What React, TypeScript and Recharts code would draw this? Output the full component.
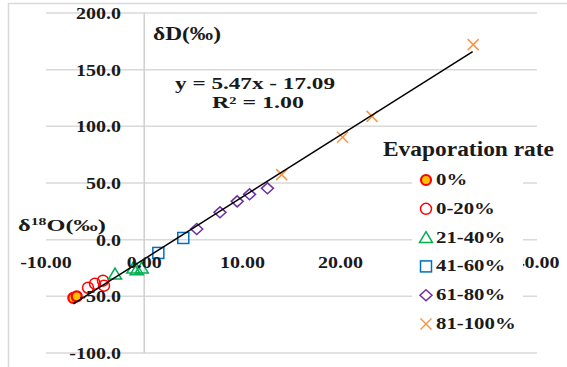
import React from "react";
import { ScatterChart, Scatter, XAxis, YAxis, CartesianGrid, ReferenceLine } from "recharts";

const xTicks = [-10, 0, 10, 20, 30, 40];
const yTicks = [-100, -50, 0, 50, 100, 150, 200];

const rate0 = [{ x: -7.22, y: -51.4 }, { x: -6.87, y: -50.0 }];
const rate0to20 = [{ x: -5.72, y: -42.4 }, { x: -5.01, y: -38.8 }, { x: -4.2, y: -36.2 }, { x: -4.09, y: -40.6 }];
const rate21to40 = [{ x: -2.97, y: -30.3 }, { x: -1.11, y: -25.0 }, { x: -0.76, y: -26.5 }, { x: -0.25, y: -25.0 }];
const rate41to60 = [{ x: 1.44, y: -11.7 }, { x: 3.98, y: 1.5 }];
const rate61to80 = [{ x: 5.35, y: 9.4 }, { x: 7.72, y: 24.1 }, { x: 9.47, y: 33.8 }, { x: 10.73, y: 40.0 }, { x: 12.55, y: 45.3 }];
const rate81to100 = [{ x: 14.0, y: 57.4 }, { x: 20.2, y: 90.3 }, { x: 23.2, y: 108.8 }, { x: 33.5, y: 172.1 }];
const trend = [{ x: -7.22, y: -56.6 }, { x: 33.45, y: 165.9 }];

const legendItems = [
  { kind: "filled", label: "0%" },
  { kind: "circle", label: "0-20%" },
  { kind: "triangle", label: "21-40%" },
  { kind: "square", label: "41-60%" },
  { kind: "diamond", label: "61-80%" },
  { kind: "cross", label: "81-100%" },
];

const FONT = "'Liberation Serif', 'Times New Roman', serif";

function Marker({ kind, cx, cy }: { kind: string; cx: number; cy: number }) {
  if (cx == null || cy == null) return null;
  switch (kind) {
    case "filled":
      return <circle cx={cx} cy={cy} r={5} fill="#FFC000" stroke="#FF0000" strokeWidth={2.2} />;
    case "circle":
      return <circle cx={cx} cy={cy} r={5.5} fill="none" stroke="#FF0000" strokeWidth={1.5} />;
    case "triangle":
      return (
        <polygon
          points={`${cx},${cy - 6} ${cx + 6.5},${cy + 5} ${cx - 6.5},${cy + 5}`}
          fill="none"
          stroke="#00B050"
          strokeWidth={1.5}
        />
      );
    case "square":
      return <rect x={cx - 5.5} y={cy - 5.5} width={11} height={11} fill="none" stroke="#0070C0" strokeWidth={1.5} />;
    case "diamond":
      return (
        <polygon
          points={`${cx},${cy - 5.5} ${cx + 6},${cy} ${cx},${cy + 5.5} ${cx - 6},${cy}`}
          fill="none"
          stroke="#7030A0"
          strokeWidth={1.5}
        />
      );
    case "cross":
      return (
        <g stroke="#F79646" strokeWidth={1.5}>
          <line x1={cx - 5.5} y1={cy - 5.5} x2={cx + 5.5} y2={cy + 5.5} />
          <line x1={cx - 5.5} y1={cy + 5.5} x2={cx + 5.5} y2={cy - 5.5} />
        </g>
      );
    default:
      return null;
  }
}

function SText({ x, y, anchor = "start", size = 16, sx = 1.25, children }: any) {
  return (
    <text
      transform={`translate(${x} ${y}) scale(${sx} 1)`}
      textAnchor={anchor}
      fontSize={size}
      fontWeight="bold"
      fontFamily={FONT}
      fill="#1a1a1a"
    >
      {children}
    </text>
  );
}

const YTick = (props: any) => {
  const { y, payload } = props;
  return <SText x={121} y={y + 6} anchor="end">{Number(payload.value).toFixed(1)}</SText>;
};

const XTick = (props: any) => {
  const { x, payload } = props;
  return <SText x={x} y={268} anchor="middle">{Number(payload.value).toFixed(2)}</SText>;
};

const shapeOf = (kind: string) => (p: any) => <Marker kind={kind} cx={p.cx} cy={p.cy} />;

export default function App() {
  return (
    <div style={{ position: "absolute", left: 0, top: 0, width: 567, height: 367, background: "#fff" }}>
      <ScatterChart width={567} height={367} margin={{ top: 13, right: 30, bottom: 0, left: 16 }}>
        <CartesianGrid vertical={false} stroke="#d9d9d9" strokeWidth={1.5} />
        <XAxis
          type="number"
          dataKey="x"
          domain={[-10, 40]}
          ticks={xTicks}
          axisLine={false}
          tickLine={false}
          height={14}
          tick={<XTick />}
          interval={0}
        />
        <YAxis
          type="number"
          dataKey="y"
          domain={[-100, 200]}
          ticks={yTicks}
          axisLine={false}
          tickLine={false}
          width={30}
          tick={<YTick />}
          interval={0}
        />
        <ReferenceLine x={0} stroke="#cfcfcf" strokeWidth={1.5} />
        <Scatter data={rate0} shape={shapeOf("filled")} isAnimationActive={false} />
        <Scatter data={rate0to20} shape={shapeOf("circle")} isAnimationActive={false} />
        <Scatter data={rate21to40} shape={shapeOf("triangle")} isAnimationActive={false} />
        <Scatter data={rate41to60} shape={shapeOf("square")} isAnimationActive={false} />
        <Scatter data={rate61to80} shape={shapeOf("diamond")} isAnimationActive={false} />
        <Scatter data={rate81to100} shape={shapeOf("cross")} isAnimationActive={false} />
        <Scatter
          data={trend}
          shape={() => <g />}
          line={{ stroke: "#000", strokeWidth: 1.5 }}
          isAnimationActive={false}
        />
      </ScatterChart>
      <svg
        width={567}
        height={367}
        style={{ position: "absolute", left: 0, top: 0, pointerEvents: "none" }}
      >
        <rect x={8.5} y={3.5} width={600} height={400} fill="none" stroke="#d9d9d9" strokeWidth={1.5} />
        <text x={153} y={40} fontSize={19} fontWeight="bold" fontFamily={FONT} fill="#1a1a1a" textLength={68} lengthAdjust="spacingAndGlyphs">
          δD(‰)
        </text>
        <text x={18} y={231} fontSize={17} fontWeight="bold" fontFamily={FONT} fill="#1a1a1a" textLength={88} lengthAdjust="spacingAndGlyphs">
          δ<tspan fontSize={11} dy={-6}>18</tspan><tspan dy={6}>O(‰)</tspan>
        </text>
        <text x={175} y={89} fontSize={16.5} fontWeight="bold" fontFamily={FONT} fill="#1a1a1a" textLength={160} lengthAdjust="spacingAndGlyphs">
          y = 5.47x - 17.09
        </text>
        <text x={212} y={108} fontSize={16.5} fontWeight="bold" fontFamily={FONT} fill="#1a1a1a" textLength={92} lengthAdjust="spacingAndGlyphs">
          R² = 1.00
        </text>
        <rect x={412} y={163} width={111} height={177} fill="#fff" />
        <text x={383} y={156} fontSize={20} fontWeight="bold" fontFamily={FONT} fill="#1a1a1a" textLength={171} lengthAdjust="spacingAndGlyphs">
          Evaporation rate
        </text>
        {legendItems.map((it, i) => {
          const base = 185 + i * 28.8;
          return (
            <g key={it.label}>
              <Marker kind={it.kind} cx={426} cy={base - 5} />
              <SText x={436} y={base} size={16} sx={1.3}>{it.label}</SText>
            </g>
          );
        })}
      </svg>
    </div>
  );
}
